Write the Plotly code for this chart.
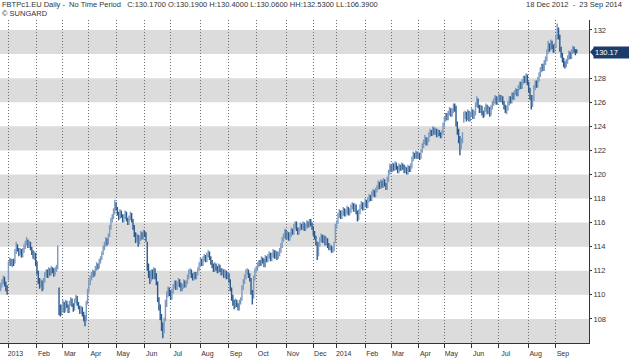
import plotly.graph_objects as go
import pandas as pd

# ---------------- data ----------------
holidays = ["2012-12-24", "2012-12-25", "2012-12-26", "2012-12-31", "2013-01-01",
            "2013-03-29", "2013-04-01", "2013-05-01", "2013-12-24", "2013-12-25",
            "2013-12-26", "2013-12-31", "2014-01-01", "2014-04-18", "2014-04-21",
            "2014-05-01"]

month_ticks = ["2013-01-02", "2013-02-01", "2013-03-01", "2013-04-02", "2013-05-02",
               "2013-06-03", "2013-07-01", "2013-08-01", "2013-09-02", "2013-10-01",
               "2013-11-01", "2013-12-02", "2014-01-02", "2014-02-03", "2014-03-03",
               "2014-04-01", "2014-05-02", "2014-06-02", "2014-07-01", "2014-08-01",
               "2014-09-01"]
month_labels = ["2013", "Feb", "Mar", "Apr", "May", "Jun", "Jul", "Aug", "Sep", "Oct",
                "Nov", "Dec", "2014", "Feb", "Mar", "Apr", "May", "Jun", "Jul", "Aug", "Sep"]

# 130 is hidden behind the last-price tag in the reference
price_ticks = [108, 110, 112, 114, 116, 118, 120, 122, 124, 126, 128, 132]
band_lows = [106, 110, 114, 118, 122, 126, 130]

open_ = [
    110.6, 110.8, 111.1, 111.3, 110.9, 110.6, 111.4, 112.6, 112.9, 112.5,
    112.8, 112.8, 113.6, 114.1, 113.8, 113.4, 113.6, 113.3, 113.7, 114.0,
    114.3, 114.5, 114.0, 114.3, 113.9, 113.5, 113.1, 113.4, 112.6, 111.9,
    111.2, 110.8, 111.0, 110.6, 111.2, 111.7, 111.9, 111.6, 112.1, 111.8,
    112.2, 112.0, 111.7, 112.1, 112.3, 110.4, 108.9, 108.6, 108.9, 109.3,
    108.8, 109.4, 109.1, 108.7, 109.3, 109.6, 109.2, 108.9, 109.5, 109.8,
    109.3, 109.0, 108.6, 108.9, 108.4, 108.1, 108.0, 109.4, 110.4, 111.0,
    111.4, 111.6, 111.9, 111.7, 112.2, 112.5, 112.3, 112.8, 113.0, 113.4,
    113.9, 114.2, 114.6, 114.3, 114.9, 115.6, 116.2, 116.5, 116.9, 117.6,
    117.2, 116.8, 116.4, 116.9, 116.6, 116.2, 116.5, 116.8, 116.3, 116.0,
    116.4, 116.7, 116.2, 115.6, 115.0, 114.6, 114.9, 114.4, 114.7, 115.1,
    114.8, 115.2, 115.0, 114.3, 112.4, 111.8, 111.3, 111.9, 111.5, 112.1,
    111.6, 111.0, 109.6, 109.0, 108.2, 107.4, 107.0, 108.0, 109.3, 110.0,
    110.4, 110.2, 109.8, 110.3, 110.7, 111.0, 110.6, 110.9, 111.2, 110.8,
    110.5, 110.7, 111.1, 110.8, 111.0, 111.5, 111.9, 112.0, 111.6, 111.4,
    111.7, 111.5, 111.8, 112.1, 112.5, 112.9, 112.6, 113.0, 113.2, 112.9,
    113.3, 113.5, 113.1, 112.7, 112.4, 112.1, 112.5, 112.2, 112.0, 112.4,
    112.1, 111.8, 112.0, 111.6, 111.9, 111.5, 111.7, 111.2, 110.5, 109.8,
    109.4, 109.1, 109.5, 109.2, 108.9, 109.4, 109.7, 110.6, 111.1, 111.5,
    111.9, 112.0, 111.6, 111.3, 110.2, 109.9, 111.4, 112.0, 112.2, 112.5,
    112.7, 112.6, 113.0, 112.8, 112.5, 113.1, 112.9, 113.2, 113.4, 113.0,
    113.3, 113.6, 113.2, 113.5, 113.1, 113.4, 113.7, 114.1, 114.6, 114.9,
    115.3, 114.8, 115.1, 114.7, 115.0, 115.4, 115.2, 115.7, 116.0, 115.5,
    115.2, 115.4, 115.8, 115.6, 115.9, 115.5, 115.7, 116.0, 115.8, 116.2,
    115.9, 115.6, 115.1, 114.8, 114.3, 113.4, 114.2, 114.6, 114.9, 114.5,
    114.8, 114.3, 114.6, 114.1, 113.9, 114.0, 113.7, 113.8, 114.4, 115.7,
    116.0, 116.6, 116.9, 116.5, 116.8, 117.1, 116.7, 116.9, 117.2, 116.8,
    117.0, 117.3, 117.5, 117.1, 117.4, 116.9, 116.4, 116.9, 117.3, 117.6,
    117.2, 117.5, 117.8, 117.4, 117.9, 118.2, 118.0, 118.4, 118.6, 118.3,
    118.7, 118.9, 119.3, 119.0, 119.4, 119.1, 119.5, 119.2, 118.9, 119.6,
    120.2, 120.7, 120.4, 120.8, 120.5, 120.9, 120.6, 120.3, 120.7, 120.5,
    120.8, 120.6, 120.3, 120.5, 120.2, 120.6, 120.4, 120.7, 121.3, 121.7,
    121.5, 121.8, 121.5, 121.7, 121.4, 121.9, 122.4, 122.7, 123.0, 122.6,
    122.9, 123.3, 123.6, 123.4, 123.8, 123.5, 123.7, 123.3, 123.6, 123.4,
    123.2, 123.5, 124.1, 124.6, 124.9, 124.7, 125.1, 125.4, 125.0, 125.3,
    125.7, 125.6, 124.2, 123.6, 123.0, 122.3, 122.8, 124.5, 124.9, 125.1,
    124.7, 125.2, 124.6, 125.0, 125.3, 124.8, 125.1, 125.8, 126.2, 125.7,
    125.3, 125.6, 125.1, 124.9, 125.4, 125.7, 125.2, 125.5, 125.0, 125.6,
    125.9, 126.1, 126.4, 126.0, 126.3, 126.5, 126.2, 126.4, 126.0, 125.6,
    125.3, 125.5, 125.9, 126.3, 126.1, 126.6, 126.4, 126.8, 127.0, 126.7,
    127.2, 127.5, 127.3, 127.7, 128.0, 127.8, 128.2, 127.6, 127.0, 126.5,
    125.9, 126.3, 127.2, 127.6, 127.4, 127.9, 128.3, 128.7, 129.0, 128.8,
    129.3, 129.6, 130.2, 130.8, 130.5, 130.9, 130.6, 130.3, 130.7, 131.4,
    132.0, 131.5, 130.4, 129.9, 129.5, 129.2, 129.0, 129.4, 129.7, 130.1,
    129.8, 130.2, 130.5, 130.3, 130.19,
]

high = [
    111.0, 111.3, 111.6, 111.5, 111.1, 110.8, 112.8, 113.1, 113.0, 113.0,
    113.0, 113.8, 114.4, 114.2, 113.9, 113.9, 113.8, 113.9, 114.2, 114.5,
    114.8, 114.6, 114.5, 114.4, 114.0, 113.7, 113.6, 113.5, 112.8, 112.0,
    111.4, 111.3, 111.2, 111.4, 111.9, 112.1, 112.1, 112.3, 112.2, 112.4,
    112.3, 112.2, 112.3, 112.5, 114.1, 110.6, 109.2, 109.2, 109.6, 109.4,
    109.6, 109.5, 109.2, 109.5, 109.8, 109.7, 109.3, 109.7, 110.0, 109.9,
    109.4, 109.1, 109.1, 109.0, 108.6, 108.3, 109.5, 110.5, 111.3, 111.6,
    111.9, 112.1, 112.0, 112.4, 112.7, 112.6, 113.0, 113.2, 113.6, 114.1,
    114.4, 114.8, 114.7, 115.1, 115.8, 116.4, 116.7, 117.2, 117.9, 117.7,
    117.3, 116.9, 117.1, 117.0, 116.7, 116.7, 117.0, 116.9, 116.4, 116.6,
    116.9, 116.8, 116.3, 115.8, 115.2, 115.1, 115.0, 114.9, 115.3, 115.2,
    115.4, 115.3, 115.2, 114.4, 112.6, 112.0, 112.1, 112.1, 112.3, 112.2,
    111.8, 111.1, 109.8, 109.2, 108.4, 107.7, 108.1, 109.6, 110.3, 110.7,
    110.6, 110.4, 110.5, 110.9, 111.2, 111.2, 111.1, 111.4, 111.3, 111.0,
    110.9, 111.3, 111.2, 111.2, 111.7, 112.1, 112.2, 112.1, 111.8, 111.9,
    111.9, 111.9, 112.3, 112.7, 113.1, 113.0, 113.2, 113.4, 113.3, 113.5,
    113.7, 113.6, 113.2, 112.9, 112.6, 112.7, 112.6, 112.4, 112.6, 112.5,
    112.2, 112.2, 112.1, 112.1, 112.0, 111.9, 111.8, 111.3, 110.6, 110.0,
    109.6, 109.7, 109.6, 109.3, 109.6, 109.8, 110.8, 111.3, 111.7, 112.1,
    112.2, 112.1, 111.8, 111.4, 110.4, 111.6, 112.2, 112.4, 112.7, 112.9,
    112.9, 113.2, 113.1, 113.0, 113.3, 113.2, 113.4, 113.6, 113.5, 113.5,
    113.8, 113.7, 113.7, 113.6, 113.6, 113.9, 114.3, 114.8, 115.1, 115.5,
    115.4, 115.3, 115.2, 115.2, 115.6, 115.5, 115.9, 116.1, 116.1, 115.6,
    115.6, 116.0, 115.9, 116.1, 116.0, 115.9, 116.2, 116.1, 116.3, 116.3,
    116.0, 115.7, 115.3, 114.9, 114.4, 114.4, 114.8, 115.1, 115.0, 115.0,
    114.9, 114.8, 114.7, 114.3, 114.2, 114.1, 114.0, 114.4, 115.9, 116.2,
    116.8, 117.1, 117.0, 117.0, 117.3, 117.2, 117.1, 117.4, 117.3, 117.2,
    117.5, 117.7, 117.6, 117.6, 117.5, 117.0, 117.1, 117.5, 117.8, 117.7,
    117.7, 118.0, 117.9, 118.1, 118.4, 118.3, 118.6, 118.8, 118.7, 118.9,
    119.1, 119.5, 119.4, 119.6, 119.5, 119.7, 119.6, 119.3, 119.8, 120.4,
    120.9, 120.8, 121.0, 120.9, 121.1, 121.0, 120.7, 120.9, 120.8, 121.0,
    120.9, 120.8, 120.7, 120.6, 120.8, 120.7, 120.9, 121.5, 121.9, 121.8,
    122.0, 121.9, 121.9, 121.8, 122.1, 122.6, 122.9, 123.3, 123.1, 123.1,
    123.5, 123.8, 123.7, 124.0, 123.9, 123.9, 123.8, 123.8, 123.7, 123.5,
    123.7, 124.3, 124.8, 125.1, 125.1, 125.3, 125.6, 125.5, 125.5, 125.9,
    125.9, 125.7, 124.4, 123.8, 123.2, 123.0, 123.5, 125.2, 125.3, 125.2,
    125.4, 125.3, 125.2, 125.5, 125.4, 125.3, 126.0, 126.5, 126.3, 125.8,
    125.8, 125.7, 125.3, 125.6, 125.9, 125.8, 125.7, 125.6, 125.8, 126.1,
    126.3, 126.6, 126.5, 126.5, 126.7, 126.6, 126.6, 126.5, 126.1, 125.8,
    125.7, 126.1, 126.5, 126.5, 126.8, 126.8, 127.0, 127.2, 127.1, 127.4,
    127.7, 127.7, 127.9, 128.2, 128.2, 128.4, 128.3, 127.7, 127.2, 126.6,
    126.6, 127.4, 127.8, 127.8, 128.1, 128.5, 128.9, 129.2, 129.2, 129.5,
    129.8, 130.4, 131.1, 130.9, 131.2, 131.1, 130.8, 130.9, 131.6, 132.53,
    132.2, 131.6, 130.6, 130.1, 129.7, 129.4, 129.6, 129.9, 130.3, 130.2,
    130.4, 130.7, 130.6, 130.4, 130.40,
]

low = [
    110.3, 110.6, 110.9, 110.7, 110.3, 110.0, 111.2, 112.4, 112.4, 112.3,
    112.4, 112.6, 113.4, 113.6, 113.2, 113.3, 113.1, 113.1, 113.5, 113.8,
    114.1, 113.9, 113.9, 113.7, 113.3, 113.0, 112.9, 112.4, 111.7, 110.9,
    110.5, 110.6, 110.3, 110.4, 111.0, 111.5, 111.4, 111.4, 111.6, 111.6,
    111.8, 111.5, 111.6, 111.9, 112.1, 108.3, 108.2, 108.3, 108.6, 108.5,
    108.6, 108.9, 108.5, 108.5, 109.1, 109.0, 108.6, 108.7, 109.3, 109.1,
    108.8, 108.4, 108.4, 108.2, 107.8, 107.4, 107.8, 109.2, 110.2, 110.8,
    111.2, 111.4, 111.5, 111.6, 112.0, 112.1, 112.2, 112.6, 112.9, 113.3,
    113.7, 114.0, 114.1, 114.2, 114.8, 115.4, 116.0, 116.3, 116.7, 117.0,
    116.6, 116.2, 116.3, 116.4, 116.0, 116.0, 116.3, 116.1, 115.8, 115.8,
    116.2, 116.0, 115.4, 114.8, 114.3, 114.4, 114.0, 114.2, 114.5, 114.6,
    114.6, 114.8, 114.4, 112.0, 111.4, 110.9, 111.1, 111.3, 111.3, 111.3,
    110.8, 109.4, 108.7, 107.9, 107.0, 106.39, 106.8, 107.8, 109.0, 109.8,
    109.9, 109.6, 109.6, 110.1, 110.5, 110.4, 110.4, 110.7, 110.6, 110.3,
    110.3, 110.5, 110.6, 110.6, 110.9, 111.3, 111.7, 111.4, 111.2, 111.2,
    111.3, 111.3, 111.6, 112.0, 112.3, 112.4, 112.4, 112.8, 112.7, 112.7,
    113.1, 112.9, 112.5, 112.2, 111.9, 111.9, 112.0, 111.8, 111.8, 111.9,
    111.6, 111.6, 111.4, 111.4, 111.3, 111.3, 111.0, 110.3, 109.5, 109.1,
    108.8, 108.9, 109.0, 108.7, 108.7, 109.2, 109.5, 110.4, 110.9, 111.3,
    111.7, 111.4, 111.1, 110.0, 109.2, 109.7, 111.2, 111.8, 112.0, 112.3,
    112.4, 112.4, 112.6, 112.3, 112.3, 112.7, 112.7, 113.0, 112.8, 112.8,
    113.1, 113.0, 113.0, 112.9, 113.0, 113.2, 113.5, 113.9, 114.4, 114.7,
    114.6, 114.6, 114.5, 114.5, 114.8, 115.0, 115.0, 115.5, 115.3, 115.0,
    115.0, 115.3, 115.4, 115.4, 115.3, 115.3, 115.5, 115.6, 115.6, 115.7,
    115.4, 114.9, 114.6, 114.1, 112.9, 113.2, 114.0, 114.4, 114.3, 114.3,
    114.1, 114.1, 113.9, 113.7, 113.7, 113.5, 113.5, 113.6, 114.3, 115.5,
    115.9, 116.4, 116.3, 116.3, 116.6, 116.5, 116.5, 116.7, 116.6, 116.6,
    116.8, 117.1, 116.9, 116.9, 116.7, 116.1, 116.2, 116.7, 117.1, 117.0,
    117.0, 117.3, 117.2, 117.2, 117.7, 117.8, 117.8, 118.2, 118.1, 118.1,
    118.5, 118.7, 118.8, 118.8, 118.9, 118.9, 119.0, 118.7, 118.7, 119.4,
    120.0, 120.2, 120.2, 120.3, 120.3, 120.4, 120.1, 120.1, 120.3, 120.3,
    120.4, 120.1, 120.1, 120.0, 120.0, 120.2, 120.2, 120.5, 121.1, 121.3,
    121.3, 121.3, 121.3, 121.2, 121.3, 121.8, 122.2, 122.5, 122.4, 122.4,
    122.7, 123.1, 123.2, 123.2, 123.3, 123.3, 123.1, 123.1, 123.2, 123.0,
    123.0, 123.3, 123.9, 124.4, 124.5, 124.5, 124.9, 124.8, 124.8, 125.1,
    125.2, 124.0, 123.3, 122.6, 121.6, 122.1, 122.6, 124.3, 124.6, 124.4,
    124.5, 124.4, 124.4, 124.8, 124.6, 124.6, 124.9, 125.6, 125.5, 125.1,
    125.1, 124.9, 124.7, 124.8, 125.2, 125.0, 125.0, 124.8, 124.9, 125.4,
    125.7, 125.9, 125.8, 125.8, 126.1, 126.0, 126.0, 125.8, 125.4, 125.1,
    125.0, 125.3, 125.7, 125.9, 125.9, 126.2, 126.2, 126.6, 126.5, 126.5,
    127.0, 127.1, 127.1, 127.5, 127.6, 127.6, 127.4, 126.8, 126.2, 125.4,
    125.6, 126.1, 127.0, 127.2, 127.2, 127.7, 128.1, 128.5, 128.6, 128.6,
    129.1, 129.4, 130.0, 130.2, 130.3, 130.4, 130.1, 130.1, 130.5, 131.2,
    131.2, 130.2, 129.7, 129.3, 128.9, 128.8, 128.9, 129.2, 129.5, 129.6,
    129.6, 130.0, 130.1, 129.9, 130.06,
]

close = [
    110.8, 111.1, 111.4, 110.9, 110.5, 110.3, 112.6, 112.9, 112.6, 112.8,
    112.7, 113.6, 114.1, 113.8, 113.4, 113.6, 113.3, 113.7, 114.0, 114.3,
    114.5, 114.1, 114.3, 113.9, 113.5, 113.2, 113.4, 112.6, 111.9, 111.2,
    110.8, 111.0, 110.6, 111.2, 111.7, 111.9, 111.6, 112.1, 111.8, 112.2,
    112.0, 111.7, 112.1, 112.3, 113.4, 108.9, 108.6, 108.9, 109.3, 108.8,
    109.4, 109.1, 108.7, 109.3, 109.6, 109.2, 108.9, 109.5, 109.8, 109.3,
    109.0, 108.6, 108.9, 108.4, 108.1, 107.9, 109.2, 110.3, 111.0, 111.4,
    111.6, 111.9, 111.7, 112.2, 112.5, 112.3, 112.8, 113.0, 113.4, 113.9,
    114.2, 114.6, 114.3, 114.9, 115.6, 116.2, 116.5, 116.9, 117.5, 117.2,
    116.8, 116.4, 116.9, 116.6, 116.2, 116.5, 116.8, 116.3, 116.0, 116.4,
    116.7, 116.2, 115.6, 115.0, 114.6, 114.9, 114.4, 114.7, 115.1, 114.8,
    115.2, 115.0, 114.6, 112.4, 111.8, 111.3, 111.9, 111.5, 112.1, 111.6,
    111.0, 109.6, 109.0, 108.2, 107.4, 107.0, 107.9, 109.3, 110.0, 110.4,
    110.2, 109.8, 110.3, 110.7, 111.0, 110.6, 110.9, 111.2, 110.8, 110.5,
    110.7, 111.1, 110.8, 111.0, 111.5, 111.9, 112.0, 111.6, 111.4, 111.7,
    111.5, 111.8, 112.1, 112.5, 112.9, 112.6, 113.0, 113.2, 112.9, 113.3,
    113.5, 113.1, 112.7, 112.4, 112.1, 112.5, 112.2, 112.0, 112.4, 112.1,
    111.8, 112.0, 111.6, 111.9, 111.5, 111.7, 111.2, 110.5, 109.8, 109.4,
    109.1, 109.5, 109.2, 108.9, 109.4, 109.6, 110.6, 111.1, 111.5, 111.9,
    112.0, 111.6, 111.3, 110.2, 109.8, 111.4, 112.0, 112.2, 112.5, 112.7,
    112.6, 113.0, 112.8, 112.5, 113.1, 112.9, 113.2, 113.4, 113.0, 113.3,
    113.6, 113.2, 113.5, 113.1, 113.4, 113.7, 114.1, 114.6, 114.9, 115.3,
    114.8, 115.1, 114.7, 115.0, 115.4, 115.2, 115.7, 116.0, 115.5, 115.2,
    115.4, 115.8, 115.6, 115.9, 115.5, 115.7, 116.0, 115.8, 116.2, 115.9,
    115.6, 115.1, 114.8, 114.3, 113.4, 114.2, 114.6, 114.9, 114.5, 114.8,
    114.3, 114.6, 114.1, 113.9, 114.0, 113.7, 113.8, 114.2, 115.7, 116.0,
    116.6, 116.9, 116.5, 116.8, 117.1, 116.7, 116.9, 117.2, 116.8, 117.0,
    117.3, 117.5, 117.1, 117.4, 116.9, 116.4, 116.9, 117.3, 117.6, 117.2,
    117.5, 117.8, 117.4, 117.9, 118.2, 118.0, 118.4, 118.6, 118.3, 118.7,
    118.9, 119.3, 119.0, 119.4, 119.1, 119.5, 119.2, 118.9, 119.6, 120.2,
    120.7, 120.4, 120.8, 120.5, 120.9, 120.6, 120.3, 120.7, 120.5, 120.8,
    120.6, 120.3, 120.5, 120.2, 120.6, 120.4, 120.7, 121.3, 121.7, 121.5,
    121.8, 121.5, 121.7, 121.4, 121.9, 122.4, 122.7, 123.0, 122.6, 122.9,
    123.3, 123.6, 123.4, 123.8, 123.5, 123.7, 123.3, 123.6, 123.4, 123.2,
    123.5, 124.1, 124.6, 124.9, 124.7, 125.1, 125.4, 125.0, 125.3, 125.7,
    125.5, 124.2, 123.6, 123.0, 122.2, 122.8, 123.3, 124.9, 125.1, 124.7,
    125.2, 124.6, 125.0, 125.3, 124.8, 125.1, 125.8, 126.2, 125.7, 125.3,
    125.6, 125.1, 124.9, 125.4, 125.7, 125.2, 125.5, 125.0, 125.6, 125.9,
    126.1, 126.4, 126.0, 126.3, 126.5, 126.2, 126.4, 126.0, 125.6, 125.3,
    125.5, 125.9, 126.3, 126.1, 126.6, 126.4, 126.8, 127.0, 126.7, 127.2,
    127.5, 127.3, 127.7, 128.0, 127.8, 128.2, 127.6, 127.0, 126.5, 125.9,
    126.3, 127.2, 127.6, 127.4, 127.9, 128.3, 128.7, 129.0, 128.8, 129.3,
    129.6, 130.2, 130.8, 130.5, 130.9, 130.6, 130.3, 130.7, 131.4, 132.0,
    131.5, 130.4, 129.9, 129.5, 129.2, 129.0, 129.4, 129.7, 130.1, 129.8,
    130.2, 130.5, 130.3, 130.0, 130.17,
]

header = ("FBTPc1.EU Daily -  No Time Period   C:130.1700 O:130.1900 H:130.4000 "
          "L:130.0600 HH:132.5300 LL:106.3900")
period = "18 Dec 2012  -  23 Sep 2014"
last_price = 130.17

# trading days (weekdays minus exchange holidays)
dates = [d.strftime("%Y-%m-%d") for d in pd.bdate_range("2012-12-18", "2014-09-23")
         if d.strftime("%Y-%m-%d") not in holidays]
n = min(len(dates), len(close), len(open_), len(high), len(low))

FONT = "Liberation Sans, Arial, sans-serif"
XFONT = "Liberation Sans Narrow, Liberation Sans, Arial, sans-serif"
NAVY = "#1c3d6c"

fig = go.Figure()
fig.add_trace(go.Ohlc(
    x=dates[:n], open=open_[:n], high=high[:n], low=low[:n], close=close[:n],
    increasing=dict(line=dict(color="#7d9bc0", width=1.4)),
    decreasing=dict(line=dict(color="#2b5a8d", width=1.4)),
    tickwidth=0.45,
    hoverinfo="skip",
))

shapes = []
for lo in band_lows:
    shapes.append(dict(type="rect", xref="paper", yref="y", x0=0, x1=1, y0=lo, y1=lo + 2,
                       fillcolor="#dcdcdc", line=dict(width=0), layer="below"))
# pointer of the last-price tag
shapes.append(dict(type="path", xref="paper", yref="y", xsizemode="pixel", ysizemode="pixel",
                   xanchor=1, yanchor=last_price,
                   path="M 1,0 L 5,4.5 L 5,-4.5 Z", fillcolor=NAVY, line=dict(width=0),
                   layer="above"))

annotations = [
    dict(text=header.replace(" ", "\u00a0"), xref="paper", yref="paper", x=0, y=1,
         xanchor="left", yanchor="bottom", xshift=0, yshift=9, showarrow=False,
         font=dict(family=FONT, size=7.5, color="#333333")),
    dict(text="\u00a9 SUNGARD", xref="paper", yref="paper", x=0, y=1,
         xanchor="left", yanchor="bottom", xshift=0, yshift=0, showarrow=False,
         font=dict(family=FONT, size=7.5, color="#333333")),
    dict(text=period.replace(" ", "\u00a0"), xref="paper", yref="paper", x=1, y=1,
         xanchor="right", yanchor="bottom", xshift=35, yshift=9, showarrow=False,
         font=dict(family=FONT, size=7.5, color="#333333")),
    dict(text="%.2f" % last_price, xref="paper", yref="y", x=1, y=last_price,
         xanchor="left", yanchor="middle", xshift=4, showarrow=False,
         width=33, align="left",
         bgcolor=NAVY, borderpad=1,
         font=dict(family=FONT, size=7.5, color="white")),
]

fig.update_layout(
    width=629, height=358,
    margin=dict(l=0, r=40, t=20, b=15),
    paper_bgcolor="white", plot_bgcolor="white",
    showlegend=False,
    font=dict(family=FONT, size=7.5, color="#333333"),
    shapes=shapes, annotations=annotations,
    xaxis=dict(
        type="date",
        range=["2012-12-17 12:00", "2014-10-06 12:00"],
        rangebreaks=[dict(bounds=["sat", "mon"]), dict(values=holidays)],
        rangeslider=dict(visible=False),
        tickmode="array", tickvals=month_ticks, ticktext=month_labels,
        ticks="outside", ticklen=4, tickcolor="#333333", tickwidth=1,
        ticklabelshift=7,
        showline=True, linecolor="#333333", linewidth=1,
        showgrid=True, gridcolor="#6e6e6e", griddash="1px,2px", gridwidth=1,
        zeroline=False,
        tickfont=dict(family=XFONT, size=7, color="#333333"),
    ),
    yaxis=dict(
        side="right",
        range=[106, 132.83],
        tickmode="array", tickvals=price_ticks,
        ticks="outside", ticklen=2, tickcolor="#333333",
        showline=True, linecolor="#333333", linewidth=1,
        showgrid=False, zeroline=False,
        tickfont=dict(family=FONT, size=7.5, color="#333333"),
    ),
)

fig.write_html("out.html", config={"displayModeBar": False},
               post_script="document.body.style.margin='0';")
